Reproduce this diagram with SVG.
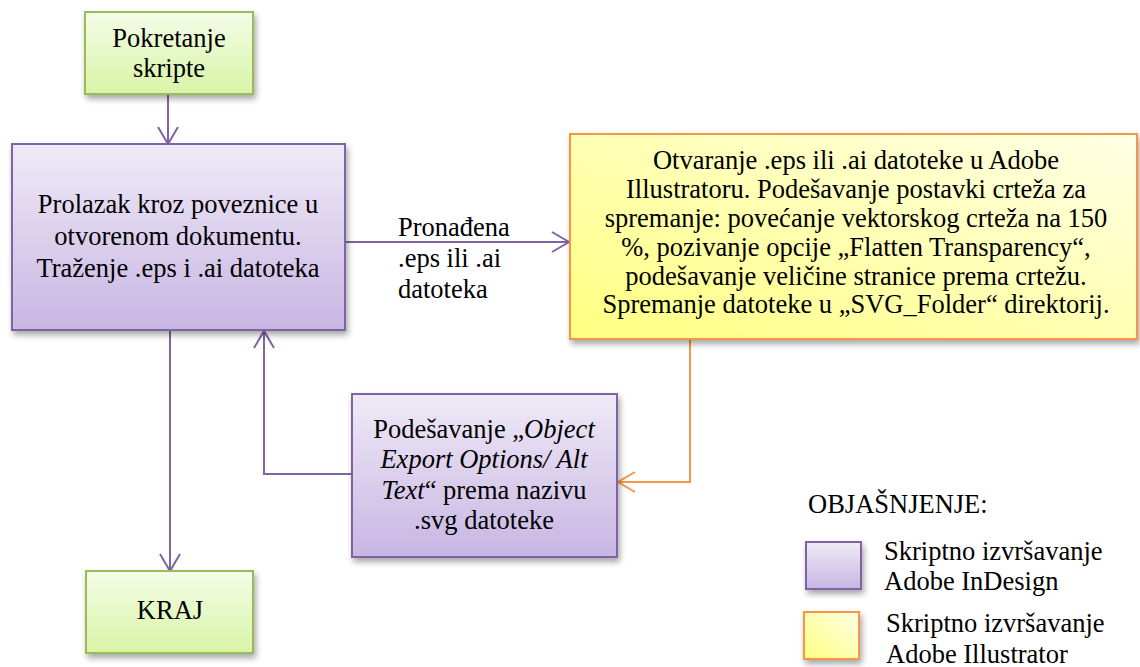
<svg xmlns="http://www.w3.org/2000/svg" width="1140" height="667" viewBox="0 0 1140 667">
<style>
text{font-family:"Liberation Serif","Times New Roman",serif;font-size:26.5px;fill:#000}
.c{text-anchor:middle}
.green{fill:url(#gGreen);stroke:#9BBB59;stroke-width:2}
.purple{fill:url(#gPurple);stroke:#8064A2;stroke-width:2}
.yellow{fill:url(#gYellow);stroke:#F79646;stroke-width:2}
.lp{fill:none;stroke:#8064A2;stroke-width:2}
.lo{fill:none;stroke:#F79646;stroke-width:2}
</style>
<defs>
<linearGradient id="gGreen" x1="0" y1="0" x2="0" y2="1"><stop offset="0" stop-color="#F4FCE8"/><stop offset="1" stop-color="#D8F4A6"/></linearGradient>
<linearGradient id="gPurple" x1="0" y1="0" x2="0" y2="1"><stop offset="0" stop-color="#EFEAF7"/><stop offset="1" stop-color="#C8B6E3"/></linearGradient>
<linearGradient id="gYellow" x1="0" y1="1" x2="1" y2="0"><stop offset="0" stop-color="#FFFF80"/><stop offset="1" stop-color="#FFFFE6"/></linearGradient>
<filter id="sh" x="-10%" y="-10%" width="125%" height="130%"><feDropShadow dx="2" dy="4" stdDeviation="3" flood-color="#000" flood-opacity="0.35"/></filter>
<marker id="ap" viewBox="-19 -12 21 24" refX="0" refY="0" markerWidth="21" markerHeight="24" markerUnits="userSpaceOnUse" orient="auto"><path d="M-17,-10 L0,0 L-17,10" fill="none" stroke="#8064A2" stroke-width="2"/></marker>
<marker id="ao" viewBox="-19 -12 21 24" refX="0" refY="0" markerWidth="21" markerHeight="24" markerUnits="userSpaceOnUse" orient="auto"><path d="M-17,-10 L0,0 L-17,10" fill="none" stroke="#F79646" stroke-width="2"/></marker>
</defs>
<rect width="1140" height="667" fill="#fff"/>
<g id="connectors">
<line class="lp" x1="168" y1="94" x2="168" y2="144" marker-end="url(#ap)"/>
<line class="lp" x1="345" y1="242" x2="569" y2="242" marker-end="url(#ap)"/>
<polyline class="lo" points="690,340 690,482 618,482" marker-end="url(#ao)"/>
<polyline class="lp" points="352,474 264,474 264,331" marker-end="url(#ap)"/>
<line class="lp" x1="170" y1="330" x2="170" y2="571" marker-end="url(#ap)"/>
<g id="label-found">
<text x="398" y="236">Pronađena</text>
<text x="398" y="267">.eps ili .ai</text>
<text x="398" y="298">datoteka</text>
</g>
</g>
<g id="start">
<rect class="green" x="85" y="12" width="168" height="82" filter="url(#sh)"/>
<text class="c" x="169" y="47">Pokretanje</text>
<text class="c" x="169" y="77">skripte</text>
</g>
<g id="links">
<rect class="purple" x="12" y="144" width="333" height="186" filter="url(#sh)"/>
<text class="c" x="178" y="213">Prolazak kroz poveznice u</text>
<text class="c" x="178" y="245">otvorenom dokumentu.</text>
<text class="c" x="178" y="277">Traženje .eps i .ai datoteka</text>
</g>
<g id="illustrator">
<rect class="yellow" x="570" y="134" width="567" height="205" filter="url(#sh)"/>
<text class="c" x="856" y="169">Otvaranje .eps ili .ai datoteke u Adobe</text>
<text class="c" x="856" y="198">Illustratoru. Podešavanje postavki crteža za</text>
<text class="c" x="856" y="227">spremanje: povećanje vektorskog crteža na 150</text>
<text class="c" x="856" y="256">%, pozivanje opcije „Flatten Transparency“,</text>
<text class="c" x="856" y="285">podešavanje veličine stranice prema crtežu.</text>
<text class="c" x="856" y="313">Spremanje datoteke u „SVG_Folder“ direktorij.</text>
</g>
<g id="alttext">
<rect class="purple" x="352" y="394" width="265" height="163" filter="url(#sh)"/>
<text class="c" x="484" y="438">Podešavanje „<tspan font-style="italic">Object</tspan></text>
<text class="c" x="484" y="468" font-style="italic">Export Options/ Alt</text>
<text class="c" x="484" y="499"><tspan font-style="italic">Text</tspan>“ prema nazivu</text>
<text class="c" x="484" y="529">.svg datoteke</text>
</g>
<g id="end">
<rect class="green" x="86" y="571" width="167" height="82" filter="url(#sh)"/>
<text class="c" x="170" y="619">KRAJ</text>
</g>
<g id="legend">
<text x="808" y="513">OBJAŠNJENJE:</text>
<rect class="purple" x="806" y="542" width="55" height="47" filter="url(#sh)"/>
<text x="884" y="560">Skriptno izvršavanje</text>
<text x="884" y="590">Adobe InDesign</text>
<rect class="yellow" x="804" y="612" width="55" height="47" filter="url(#sh)"/>
<text x="886" y="632">Skriptno izvršavanje</text>
<text x="886" y="663">Adobe Illustrator</text>
</g>
</svg>
